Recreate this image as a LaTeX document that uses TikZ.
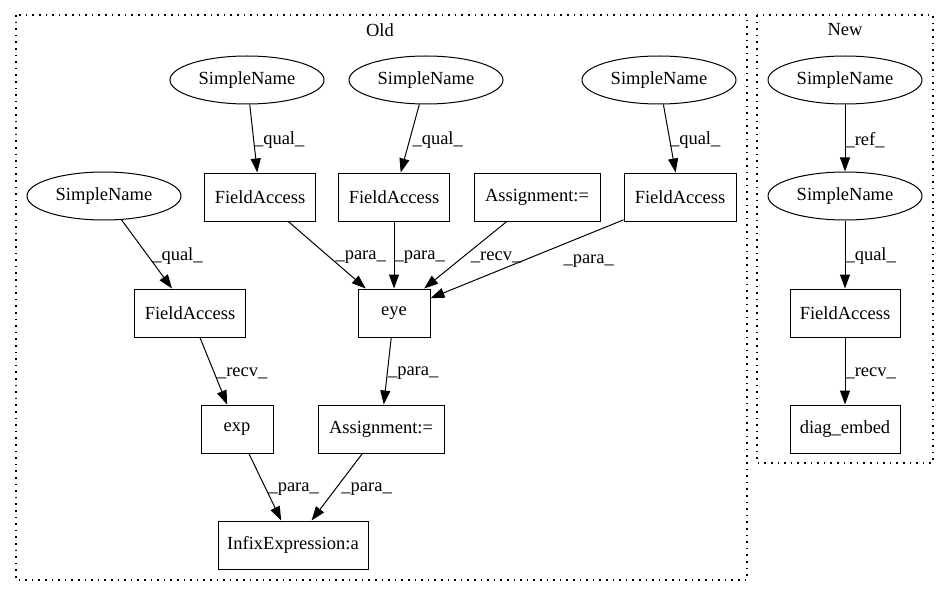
\documentclass[tikz,border=0pt]{standalone}
\usepackage{fontspec}
\setmainfont{Liberation Serif}
\usetikzlibrary{shapes.geometric,arrows.meta}

\tikzset{
	sname/.style = {ellipse, draw, line width=1pt, minimum width=154pt, minimum height=48pt, inner sep=0pt},
	box/.style = {rectangle, draw, line width=1pt, minimum height=48pt, inner sep=0pt},
	edge/.style = {-{Triangle[length=14pt,width=10pt]}, line width=1pt},
	elab/.style = {anchor=west, inner sep=0pt, yshift=-2pt},
	cluster/.style = {line width=1.4pt, dash pattern=on 1.6pt off 5pt}
}

\begin{document}
\begin{tikzpicture}[x=1pt, y=-1pt, font=\fontsize{18.5}{20}\selectfont]
			\useasboundingbox (0,0) rectangle (949,596);
			
			% clusters
			\draw[cluster] (16,15) rectangle (747,580);
			\draw[cluster] (757,15) rectangle (933,463);
			\node (oldtitle) at (380,30) {Old};
			\node (newtitle) at (845,30) {New};
			
			% old
			\node[sname] (sn1) at (104,196) {SimpleName};
			\node[sname] (sn2) at (247,80) {SimpleName};
			\node[sname] (sn3) at (426,80) {SimpleName};
			\node[sname] (sn4) at (659,80) {SimpleName};
			\node[box, minimum width=111pt] (fa1) at (260,197) {FieldAccess};
			\node[box, minimum width=111pt] (fa2) at (394,197) {FieldAccess};
			\node[box, minimum width=126pt] (asg1) at (537,197) {Assignment:=};
			\node[box, minimum width=112pt] (fa3) at (680,197) {FieldAccess};
			\node[box, minimum width=111pt] (fa0) at (190,313) {FieldAccess};
			\node[box, minimum width=72pt] (eye) at (394,313) {eye};
			\node[box, minimum width=72pt] (exp) at (237,429) {exp};
			\node[box, minimum width=126pt] (asg2) at (381,429) {Assignment:=};
			\node[box, minimum width=150pt] (infix) at (293,545) {InfixExpression:a};
			
			\draw[edge] (sn2) -- (fa1) node[elab, pos=0.5] {\_qual\_};
			\draw[edge] (sn3) -- (fa2) node[elab, pos=0.5, xshift=2pt] {\_qual\_};
			\draw[edge] (sn4) -- (fa3) node[elab, pos=0.5] {\_qual\_};
			\draw[edge] (sn1) -- (fa0) node[elab, pos=0.5, xshift=5pt] {\_qual\_};
			\draw[edge] (fa1) -- (eye) node[elab, pos=0.5, xshift=8pt] {\_para\_};
			\draw[edge] (fa2) -- (eye) node[elab, pos=0.5] {\_para\_};
			\draw[edge] (asg1) -- (eye) node[elab, pos=0.5, xshift=5pt] {\_recv\_};
			\draw[edge] (fa3) -- (eye) node[elab, pos=0.5, xshift=36pt] {\_para\_};
			\draw[edge] (fa0) -- (exp) node[elab, pos=0.5, xshift=3pt] {\_recv\_};
			\draw[edge] (eye) -- (asg2) node[elab, pos=0.5] {\_para\_};
			\draw[edge] (exp) -- (infix) node[elab, pos=0.5, xshift=3pt] {\_para\_};
			\draw[edge] (asg2) -- (infix) node[elab, pos=0.5, xshift=4pt] {\_para\_};
			
			% new
			\node[sname] (nsn1) at (845,80) {SimpleName};
			\node[sname] (nsn2) at (845,196) {SimpleName};
			\node[box, minimum width=110pt] (nfa) at (845,313) {FieldAccess};
			\node[box, minimum width=110pt] (diag) at (845,429) {diag\_embed};
			
			\draw[edge] (nsn1) -- (nsn2) node[elab, pos=0.5] {\_ref\_};
			\draw[edge] (nsn2) -- (nfa) node[elab, pos=0.5] {\_qual\_};
			\draw[edge] (nfa) -- (diag) node[elab, pos=0.5] {\_recv\_};
		\end{tikzpicture}
\end{document}
